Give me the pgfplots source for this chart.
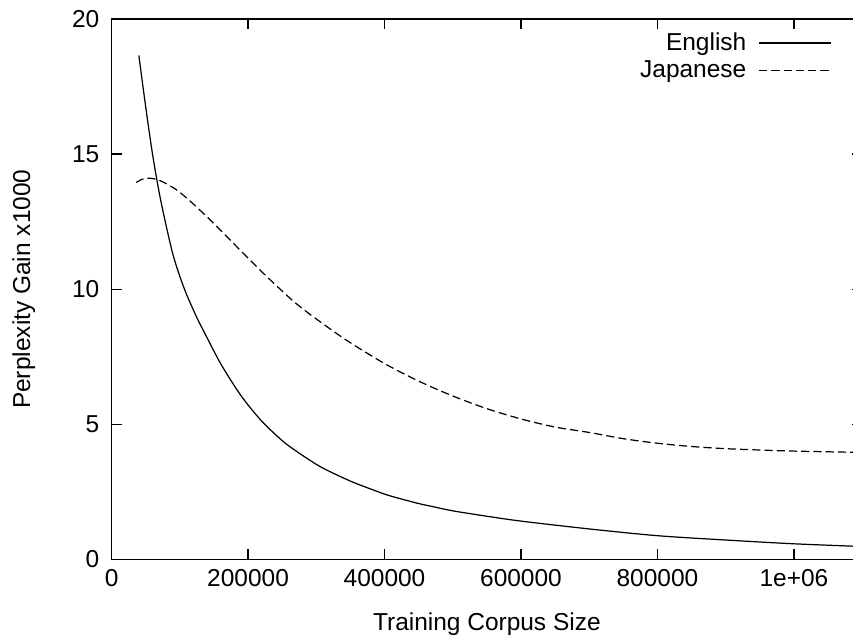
\documentclass[border=0pt]{standalone}
\usepackage{fontspec}
\setmainfont{Liberation Sans}
\usepackage{pgfplots}
\pgfplotsset{compat=1.18}

\newcommand{\chartfont}{\fontsize{12}{14}\selectfont}

\begin{document}
\begin{tikzpicture}
\begin{axis}[
    scale only axis,
    width=368pt,height=265pt,
    xmin=0,xmax=1100000,ymin=0,ymax=20,
    xtick={0,200000,400000,600000,800000,1000000},
    xticklabels={0,200000,400000,600000,800000,1e+06},
    ytick={0,5,10,15,20},
    scaled x ticks=false,
    tick align=inside,
    major tick length=5pt,
    tick style={black,line width=0.6pt},
    axis line style={line width=0.8pt},
    /pgf/number format/assume math mode=true,
    tick label style={font=\chartfont},
    xticklabel style={yshift=-1.5pt},
    yticklabel style={xshift=-2.5pt},
    xlabel={Training Corpus Size},
    ylabel={Perplexity Gain x1000},
    every axis x label/.style={at={(axis description cs:0.5,-0.120)},anchor=center,font=\chartfont},
    every axis y label/.style={at={(axis description cs:-0.117,0.5)},anchor=center,rotate=90,font=\chartfont},
    legend plot pos=right,
    legend cell align=right,
    legend style={draw=none,fill=none,font=\chartfont,
        at={(axis description cs:1,1)},anchor=north east,
        xshift=-12pt,yshift=-2.5pt,row sep=-0.5pt},
    legend image code/.code={\path (0pt,0pt); \draw[#1] (4pt,0pt) -- (39pt,0pt);},
]
% English
\addplot[black,line width=0.6pt,smooth] coordinates {
  (40000,18.65) (50000,16.75) (60000,15.0) (70000,13.55) (80000,12.35)
  (90000,11.28) (100000,10.48) (110000,9.8) (125000,8.95) (135000,8.45)
  (160000,7.24) (190000,6.05) (220000,5.12) (250000,4.4) (270000,4.02)
  (300000,3.52) (320000,3.25) (350000,2.9) (370000,2.7) (400000,2.42)
  (420000,2.27) (450000,2.07) (470000,1.96) (500000,1.8) (550000,1.6)
  (600000,1.42) (700000,1.13) (800000,0.88) (900000,0.72) (1000000,0.58)
  (1100000,0.48)
};
\addlegendentry{English}
% Japanese
\addplot[black,line width=0.6pt,smooth,dash pattern=on 4pt off 2pt] coordinates {
  (36000,13.95) (45000,14.07) (54000,14.11) (70000,14.03) (95000,13.68)
  (120000,13.15) (145000,12.55) (170000,11.92) (195000,11.28) (220000,10.65)
  (245000,10.05) (270000,9.48) (300000,8.9) (345000,8.1) (400000,7.25)
  (450000,6.6) (500000,6.05) (550000,5.58) (600000,5.2) (650000,4.9)
  (700000,4.7) (750000,4.47) (800000,4.3) (850000,4.18) (900000,4.1)
  (950000,4.05) (1000000,4.01) (1100000,3.96)
};
\addlegendentry{Japanese}
\end{axis}
\pgfresetboundingbox
\path[use as bounding box] ([shift={(-54.7pt,-37.7pt)}]current axis.south west)
  rectangle ([shift={(363.5pt,274.3pt)}]current axis.south west);
\end{tikzpicture}
\end{document}
